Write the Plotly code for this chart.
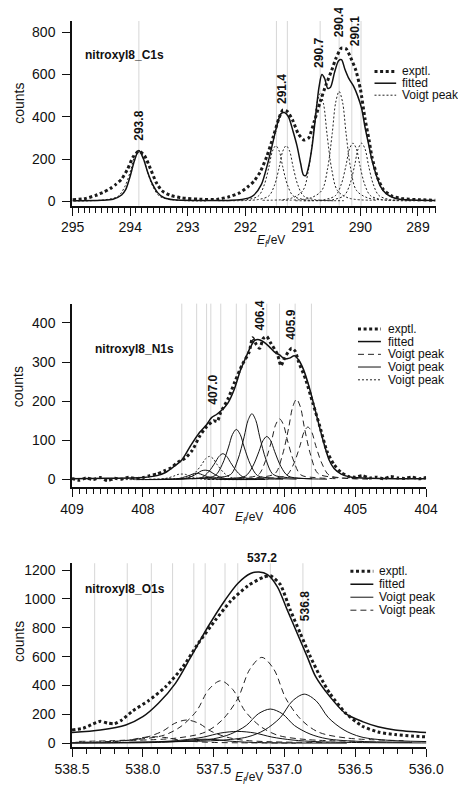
import plotly.graph_objects as go

# ---------------- C1s ----------------
c1s_exptl_e = [295.0, 294.8, 294.6, 294.45, 294.35, 294.25, 294.15, 294.05, 293.95, 293.85, 293.75, 293.65, 293.55, 293.45, 293.3, 293.1, 292.8, 292.5, 292.3, 292.1, 291.95, 291.85, 291.74, 291.63, 291.51, 291.42, 291.35, 291.27, 291.18, 291.08, 290.98, 290.9, 290.8, 290.7, 290.6, 290.5, 290.42, 290.33, 290.25, 290.17, 290.08, 290.0, 289.92, 289.85, 289.8, 289.7, 289.6, 289.45, 289.25, 289.0, 288.7]
c1s_exptl_counts = [8, 12, 28, 45, 60, 80, 105, 150, 210, 238, 215, 155, 90, 50, 28, 16, 10, 9, 20, 40, 70, 95, 140, 210, 310, 390, 432, 425, 385, 320, 290, 300, 380, 470, 550, 620, 680, 725, 722, 680, 620, 530, 390, 290, 210, 110, 55, 25, 12, 8, 5]
c1s_fit_e = [295.0, 294.5, 294.3, 294.15, 294.08, 294.0, 293.93, 293.85, 293.77, 293.7, 293.62, 293.52, 293.42, 293.25, 292.8, 292.25, 291.95, 291.85, 291.72, 291.62, 291.52, 291.45, 291.38, 291.32, 291.25, 291.17, 291.1, 291.04, 290.99, 290.95, 290.9, 290.84, 290.78, 290.72, 290.67, 290.62, 290.57, 290.52, 290.45, 290.38, 290.33, 290.27, 290.2, 290.12, 290.05, 289.98, 289.92, 289.85, 289.8, 289.72, 289.65, 289.55, 289.4, 289.2, 288.7]
c1s_fit_counts = [3, 5, 10, 30, 55, 120, 190, 240, 200, 140, 85, 40, 18, 7, 4, 5, 15, 30, 80, 170, 280, 360, 415, 420, 400, 330, 260, 180, 125, 122, 165, 260, 400, 540, 600, 580, 535, 540, 610, 665, 670, 625, 580, 545, 500, 440, 350, 260, 195, 120, 70, 35, 15, 7, 4]
c1s_peak_e = [
    [295.05, 294.45, 294.21, 294.09, 293.99, 293.92, 293.85, 293.78, 293.71, 293.61, 293.49, 293.25, 292.65],
    [292.47, 291.97, 291.77, 291.67, 291.59, 291.53, 291.47, 291.41, 291.35, 291.27, 291.17, 290.97, 290.47],
    [292.29, 291.79, 291.59, 291.49, 291.41, 291.35, 291.29, 291.23, 291.17, 291.09, 290.99, 290.79, 290.29],
    [291.7, 291.2, 291.0, 290.9, 290.82, 290.76, 290.7, 290.64, 290.58, 290.5, 290.4, 290.2, 289.7],
    [291.37, 290.87, 290.67, 290.57, 290.49, 290.43, 290.37, 290.31, 290.25, 290.17, 290.07, 289.87, 289.37],
    [291.13, 290.63, 290.43, 290.33, 290.25, 290.19, 290.13, 290.07, 290.01, 289.93, 289.83, 289.63, 289.13],
    [290.98, 290.48, 290.28, 290.18, 290.1, 290.04, 289.98, 289.92, 289.86, 289.78, 289.68, 289.48, 288.98],
]
c1s_peak_counts = [
    [2, 7, 24, 72, 149, 216, 240, 216, 149, 72, 24, 7, 2],
    [3, 8, 26, 79, 163, 237, 263, 237, 163, 79, 26, 8, 3],
    [3, 8, 26, 79, 163, 237, 263, 237, 163, 79, 26, 8, 3],
    [5, 15, 51, 153, 316, 459, 510, 459, 316, 153, 51, 15, 5],
    [5, 16, 52, 156, 322, 468, 520, 468, 322, 156, 52, 16, 5],
    [3, 8, 28, 83, 171, 248, 275, 248, 171, 83, 28, 8, 3],
    [3, 8, 28, 83, 171, 248, 275, 248, 171, 83, 28, 8, 3],
]
c1s_peak_kind = ["dotted"] * 7
c1s_marker_e = [293.85, 291.46, 291.27, 290.70, 290.37, 290.15, 289.99]
c1s_label_text = ["293.8", "291.4", "290.7", "290.4", "290.1"]
c1s_label_e = [293.85, 291.35, 290.71, 290.37, 290.09]
c1s_label_counts = [357, 530, 700, 848, 806]

# ---------------- N1s ----------------
n1s_exptl_e = [409.0, 408.9, 408.8, 408.7, 408.6, 408.5, 408.4, 408.3, 408.2, 408.1, 408.0, 407.9, 407.8, 407.7, 407.6, 407.5, 407.4, 407.3, 407.2, 407.1, 407.0, 406.95, 406.9, 406.8, 406.7, 406.6, 406.5, 406.45, 406.4, 406.35, 406.3, 406.25, 406.2, 406.1, 406.05, 406.0, 405.95, 405.9, 405.85, 405.8, 405.7, 405.6, 405.5, 405.4, 405.3, 405.2, 405.1, 405.0, 404.9, 404.8, 404.7, 404.6, 404.5, 404.4, 404.3, 404.2, 404.1, 404.0]
n1s_exptl_counts = [3, -2, 4, 0, 5, -3, 3, 1, 6, 2, 5, 10, 14, 22, 30, 45, 55, 75, 110, 135, 150, 148, 172, 205, 250, 292, 325, 362, 345, 335, 360, 365, 350, 320, 290, 310, 325, 335, 328, 300, 255, 195, 135, 72, 38, 18, 8, 6, 10, 4, 6, 2, 8, 4, 3, 6, 2, 5]
n1s_fit_e = [409.0, 408.5, 408.0, 407.8, 407.68, 407.57, 407.45, 407.33, 407.2, 407.1, 407.03, 406.96, 406.88, 406.8, 406.71, 406.62, 406.55, 406.48, 406.42, 406.36, 406.3, 406.22, 406.14, 406.07, 406.0, 405.93, 405.86, 405.8, 405.73, 405.65, 405.57, 405.5, 405.44, 405.37, 405.3, 405.2, 405.05, 404.8, 404.4, 404.0]
n1s_fit_counts = [2, 3, 5, 10, 18, 32, 50, 85, 120, 140, 158, 166, 178, 195, 230, 280, 310, 338, 355, 357, 352, 340, 325, 318, 308, 310, 316, 305, 280, 235, 180, 130, 90, 50, 28, 14, 6, 3, 2, 2]
n1s_peak_e = [
    [408.3, 407.95, 407.75, 407.65, 407.56, 407.505, 407.45, 407.395, 407.34, 407.25, 407.15, 406.95, 406.6],
    [407.91, 407.56, 407.36, 407.26, 407.17, 407.115, 407.06, 407.005, 406.95, 406.86, 406.76, 406.56, 406.21],
    [408.09, 407.74, 407.54, 407.44, 407.35, 407.295, 407.24, 407.185, 407.13, 407.04, 406.94, 406.74, 406.39],
    [407.97, 407.62, 407.42, 407.32, 407.23, 407.175, 407.12, 407.065, 407.01, 406.92, 406.82, 406.62, 406.27],
    [407.72, 407.37, 407.17, 407.07, 406.98, 406.925, 406.87, 406.815, 406.76, 406.67, 406.57, 406.37, 406.02],
    [407.53, 407.18, 406.98, 406.88, 406.79, 406.735, 406.68, 406.625, 406.57, 406.48, 406.38, 406.18, 405.83],
    [407.31, 406.96, 406.76, 406.66, 406.57, 406.515, 406.46, 406.405, 406.35, 406.26, 406.16, 405.96, 405.61],
    [407.1, 406.75, 406.55, 406.45, 406.36, 406.305, 406.25, 406.195, 406.14, 406.05, 405.95, 405.75, 405.4],
    [406.92, 406.57, 406.37, 406.27, 406.18, 406.125, 406.07, 406.015, 405.96, 405.87, 405.77, 405.57, 405.22],
    [406.68, 406.33, 406.13, 406.03, 405.94, 405.885, 405.83, 405.775, 405.72, 405.63, 405.53, 405.33, 404.98],
    [406.52, 406.17, 405.97, 405.87, 405.78, 405.725, 405.67, 405.615, 405.56, 405.47, 405.37, 405.17, 404.82],
]
n1s_peak_counts = [
    [0, 0, 1, 4, 9, 13, 14, 13, 9, 4, 1, 0, 0],
    [1, 2, 5, 18, 38, 53, 59, 53, 38, 18, 5, 2, 1],
    [0, 0, 1, 5, 10, 14, 16, 14, 10, 5, 1, 0, 0],
    [0, 1, 2, 7, 16, 22, 24, 22, 16, 7, 2, 1, 0],
    [1, 2, 5, 20, 43, 59, 66, 59, 43, 20, 5, 2, 1],
    [1, 4, 10, 38, 83, 115, 128, 115, 83, 38, 10, 4, 1],
    [2, 5, 13, 50, 109, 151, 168, 151, 109, 50, 13, 5, 2],
    [1, 3, 9, 33, 72, 99, 110, 99, 72, 33, 9, 3, 1],
    [2, 5, 12, 47, 101, 140, 155, 140, 101, 47, 12, 5, 2],
    [2, 6, 16, 62, 133, 185, 205, 185, 133, 62, 16, 6, 2],
    [1, 4, 11, 40, 87, 121, 134, 121, 87, 40, 11, 4, 1],
]
n1s_peak_kind = ["dotted", "dotted", "solid", "solid", "solid", "solid", "solid", "solid", "dashed", "dashed", "dashed"]
n1s_marker_e = [407.45, 407.24, 407.10, 407.04, 406.90, 406.68, 406.54, 406.25, 406.07, 405.85, 405.62]
n1s_label_text = ["407.0", "406.4", "405.9"]
n1s_label_e = [407.01, 406.35, 405.91]
n1s_label_counts = [229, 418, 395]

# ---------------- O1s ----------------
o1s_exptl_e = [538.5, 538.42, 538.36, 538.3, 538.25, 538.2, 538.15, 538.07, 537.96, 537.84, 537.72, 537.61, 537.49, 537.38, 537.26, 537.15, 537.1, 537.03, 536.96, 536.89, 536.82, 536.75, 536.68, 536.57, 536.45, 536.34, 536.22, 536.1, 536.0]
o1s_exptl_counts = [92, 104, 130, 152, 140, 135, 160, 225, 295, 390, 525, 690, 850, 985, 1090, 1150, 1160, 1100, 925, 765, 605, 465, 345, 210, 118, 78, 60, 50, 44]
o1s_fit_e = [538.5, 538.3, 538.12, 538.0, 537.89, 537.77, 537.66, 537.54, 537.42, 537.33, 537.24, 537.18, 537.12, 537.05, 536.98, 536.91, 536.84, 536.78, 536.68, 536.57, 536.45, 536.34, 536.22, 536.0]
o1s_fit_counts = [74, 92, 127, 184, 277, 415, 600, 807, 991, 1107, 1176, 1187, 1169, 1084, 922, 761, 600, 461, 323, 207, 150, 115, 92, 74]
o1s_peak_e = [
    [537.86, 537.46, 537.26, 537.14, 537.03, 536.945, 536.86, 536.775, 536.69, 536.58, 536.46, 536.26, 535.86],
    [538.1, 537.7, 537.5, 537.38, 537.27, 537.185, 537.1, 537.015, 536.93, 536.82, 536.7, 536.5, 536.1],
    [538.73, 538.17, 537.89, 537.72, 537.57, 537.45, 537.33, 537.21, 537.09, 536.94, 536.77, 536.49, 535.93],
    [538.56, 538.16, 537.96, 537.84, 537.73, 537.645, 537.56, 537.475, 537.39, 537.28, 537.16, 536.96, 536.56],
    [538.16, 537.76, 537.56, 537.44, 537.33, 537.245, 537.16, 537.075, 536.99, 536.88, 536.76, 536.56, 536.16],
    [538.45, 538.05, 537.85, 537.73, 537.62, 537.535, 537.45, 537.365, 537.28, 537.17, 537.05, 536.85, 536.45],
    [538.69, 538.29, 538.09, 537.97, 537.86, 537.775, 537.69, 537.605, 537.52, 537.41, 537.29, 537.09, 536.69],
    [538.92, 538.52, 538.32, 538.2, 538.09, 538.005, 537.92, 537.835, 537.75, 537.64, 537.52, 537.32, 536.92],
]
o1s_peak_counts = [
    [10, 20, 44, 92, 177, 292, 340, 292, 177, 92, 44, 20, 10],
    [7, 14, 31, 64, 123, 204, 237, 204, 123, 64, 31, 14, 7],
    [2, 5, 11, 22, 43, 71, 82, 71, 43, 22, 11, 5, 2],
    [1, 2, 4, 8, 15, 24, 28, 24, 15, 8, 4, 2, 1],
    [18, 36, 77, 161, 309, 512, 595, 512, 309, 161, 77, 36, 18],
    [13, 26, 56, 117, 225, 372, 433, 372, 225, 117, 56, 26, 13],
    [5, 10, 21, 43, 84, 138, 161, 138, 84, 43, 21, 10, 5],
    [1, 3, 6, 12, 23, 39, 45, 39, 23, 12, 6, 3, 1],
]
o1s_peak_kind = ["solid", "solid", "solid", "solid", "dashed", "dashed", "dashed", "dashed"]
o1s_marker_e = [538.34, 538.11, 537.94, 537.79, 537.64, 537.56, 537.42, 537.33, 537.10, 536.87]
o1s_label_text = ["537.2", "536.8"]
o1s_label_e = [537.16, 536.85]
o1s_label_counts = [1284, 948]
o1s_label_angle = [0, -90]

panel_titles = ["nitroxyl8_C1s", "nitroxyl8_N1s", "nitroxyl8_O1s"]
c1s_legend = [("exptl.", "exptl"), ("fitted", "fitted"), ("Voigt peak", "dotted")]
n1s_legend = [("exptl.", "exptl"), ("fitted", "fitted"), ("Voigt peak", "dashed"), ("Voigt peak", "solid"), ("Voigt peak", "dotted")]
o1s_legend = [("exptl.", "exptl"), ("fitted", "fitted"), ("Voigt peak", "solid"), ("Voigt peak", "dashed")]

# axis ranges (counts)
c1s_yrange = [-21, 853]
n1s_yrange = [-20, 449]
o1s_yrange = [-26, 1247]

# ---------------- styling ----------------
FONT = "Liberation Sans, Arial, Helvetica, sans-serif"
INK = "#111111"
STYLES = {
    "exptl": dict(color="#1a1a1a", width=3, dash="3px,2.6px"),
    "fitted": dict(color=INK, width=1.5),
    "solid": dict(color=INK, width=1),
    "dotted": dict(color="#222222", width=1, dash="2px,2px"),
    "dashed": dict(color="#222222", width=1, dash="6px,4px"),
}

fig = go.Figure()

panels = [
    ("x", "y", c1s_exptl_e, c1s_exptl_counts, c1s_fit_e, c1s_fit_counts, c1s_peak_e, c1s_peak_counts, c1s_peak_kind),
    ("x2", "y2", n1s_exptl_e, n1s_exptl_counts, n1s_fit_e, n1s_fit_counts, n1s_peak_e, n1s_peak_counts, n1s_peak_kind),
    ("x3", "y3", o1s_exptl_e, o1s_exptl_counts, o1s_fit_e, o1s_fit_counts, o1s_peak_e, o1s_peak_counts, o1s_peak_kind),
]

for xa, ya, ee, ec, fe, fc, pe, pc, pk in panels:
    for xs, ys, kind in zip(pe, pc, pk):
        fig.add_trace(go.Scatter(x=xs, y=ys, mode="lines", xaxis=xa, yaxis=ya,
                                 line=dict(shape="spline", smoothing=0.9, **STYLES[kind]),
                                 showlegend=False, hoverinfo="skip"))
    fig.add_trace(go.Scatter(x=fe, y=fc, mode="lines", xaxis=xa, yaxis=ya,
                             line=dict(shape="spline", smoothing=0.8, **STYLES["fitted"]),
                             showlegend=False))
    fig.add_trace(go.Scatter(x=ee, y=ec, mode="lines", xaxis=xa, yaxis=ya,
                             line=dict(shape="spline", smoothing=0.6, **STYLES["exptl"]),
                             showlegend=False))

shapes = []
for xa, marks in (("x", c1s_marker_e), ("x2", n1s_marker_e), ("x3", o1s_marker_e)):
    ya = xa.replace("x", "y")
    for e in marks:
        shapes.append(dict(type="line", xref=xa, yref=ya + " domain", x0=e, x1=e, y0=0, y1=1,
                           line=dict(color="#d6d6d6", width=1), layer="below"))

annotations = []
lab_font = dict(family=FONT, size=12, color=INK, weight="bold")
for xa, texts, es, cs, angs, yr in (
    ("x", c1s_label_text, c1s_label_e, c1s_label_counts, [-90] * 5, c1s_yrange),
    ("x2", n1s_label_text, n1s_label_e, n1s_label_counts, [-90] * 3, n1s_yrange),
    ("x3", o1s_label_text, o1s_label_e, o1s_label_counts, o1s_label_angle, o1s_yrange),
):
    ya = xa.replace("x", "y")
    for t, e, c, a in zip(texts, es, cs, angs):
        # y given in the axis' domain fraction so labels above the axis top stay visible
        annotations.append(dict(text=t, x=e, y=(c - yr[0]) / (yr[1] - yr[0]), xref=xa, yref=ya + " domain",
                                showarrow=False, textangle=a, font=lab_font,
                                xanchor="center", yanchor="middle"))

# panel titles (domain coords)
for (xa, ya, tx, ty), title in zip((("x", "y", 0.03, 0.816), ("x2", "y2", 0.058, 0.755), ("x3", "y3", 0.031, 0.859)), panel_titles):
    annotations.append(dict(text=title, x=tx, y=ty, xref=xa + " domain", yref=ya + " domain",
                            xanchor="left", yanchor="middle", showarrow=False, font=lab_font))

# page has an 8px body margin; figure is sized so that the plot area sits at the same page pixels
OFF = 8
W, H, ML, MR, MT, MB = 458, 781, 64, 24, 12, 42
PW, PH = W - ML - MR, H - MT - MB
def px(xp):
    return (xp - OFF - ML) / PW
def py(yp):
    return (H - MB - (yp - OFF)) / PH

for yc in (102, 386, 641):
    annotations.append(dict(text="counts", x=px(18), y=py(yc), xref="paper", yref="paper",
                            xanchor="center", yanchor="middle",
                            textangle=-90, showarrow=False, font=dict(family=FONT, size=14, color=INK)))
for xc, yc in ((274, 240), (252, 518), (252, 778)):
    annotations.append(dict(text="<i>E</i><sub><i>f</i></sub>/eV", x=px(xc), y=py(yc), xref="paper", yref="paper",
                            xanchor="center", yanchor="middle",
                            showarrow=False, font=dict(family=FONT, size=12, color=INK)))

# manual legends
for entries, x0, x1, xt, rows in (
    (c1s_legend, 379.5, 401.5, 405.5, [70.5, 82.3, 94.3]),
    (n1s_legend, 362.7, 386, 390.7, [328.3, 341, 353.8, 366.5, 379.3]),
    (o1s_legend, 355, 378.3, 381.7, [571, 584, 597, 610]),
):
    for (label, kind), r in zip(entries, rows):
        st = dict(STYLES[kind])
        shapes.append(dict(type="line", xref="paper", yref="paper", x0=px(x0), x1=px(x1),
                           y0=py(r), y1=py(r), line=st))
        annotations.append(dict(text=label, x=px(xt), y=py(r), xref="paper", yref="paper",
                                xanchor="left", yanchor="middle", showarrow=False,
                                font=dict(family=FONT, size=12, color=INK)))

xcommon = dict(showline=True, linecolor=INK, linewidth=1.5, ticks="outside", ticklen=8, tickwidth=1.3,
               tickcolor=INK, showgrid=False, zeroline=False, tickfont=dict(family=FONT, size=14, color=INK),
               autorange=False)
ycommon = dict(showline=True, linecolor=INK, linewidth=1.5, ticks="outside", ticklen=8, tickwidth=1.3,
               tickcolor=INK, showgrid=False, zeroline=False, tickfont=dict(family=FONT, size=14, color=INK),
               autorange=False, ticklabelstandoff=4)

fig.update_layout(
    width=W, height=H,
    margin=dict(l=ML, r=MR, t=MT, b=MB),
    paper_bgcolor="white", plot_bgcolor="white",
    font=dict(family=FONT, color=INK),
    showlegend=False,
    xaxis=dict(xcommon, domain=[0, 1], anchor="y", range=[295.012, 288.687], tick0=295, dtick=1,
               minor=dict(ticks="outside", ticklen=5, dtick=0.1, tick0=295, tickcolor=INK, tickwidth=1)),
    yaxis=dict(ycommon, domain=[0.7455, 1.0], anchor="x", range=c1s_yrange, tick0=0, dtick=200),
    xaxis2=dict(xcommon, domain=[0, 0.973], anchor="y2", range=[409, 404], tick0=404, dtick=1,
                minor=dict(ticks="outside", ticklen=5, dtick=0.1, tick0=404, tickcolor=INK, tickwidth=1)),
    yaxis2=dict(ycommon, domain=[0.3576, 0.6107], anchor="x2", range=n1s_yrange, tick0=0, dtick=100),
    xaxis3=dict(xcommon, domain=[0, 0.973], anchor="y3", range=[538.5, 536.0], tick0=536, dtick=0.5,
                tickformat=".1f",
                minor=dict(ticks="outside", ticklen=5, dtick=0.1, tick0=536, tickcolor=INK, tickwidth=1)),
    yaxis3=dict(ycommon, domain=[0, 0.2531], anchor="x3", range=o1s_yrange, tick0=0, dtick=200),
    shapes=shapes,
    annotations=annotations,
)

fig.write_html("out.html")
